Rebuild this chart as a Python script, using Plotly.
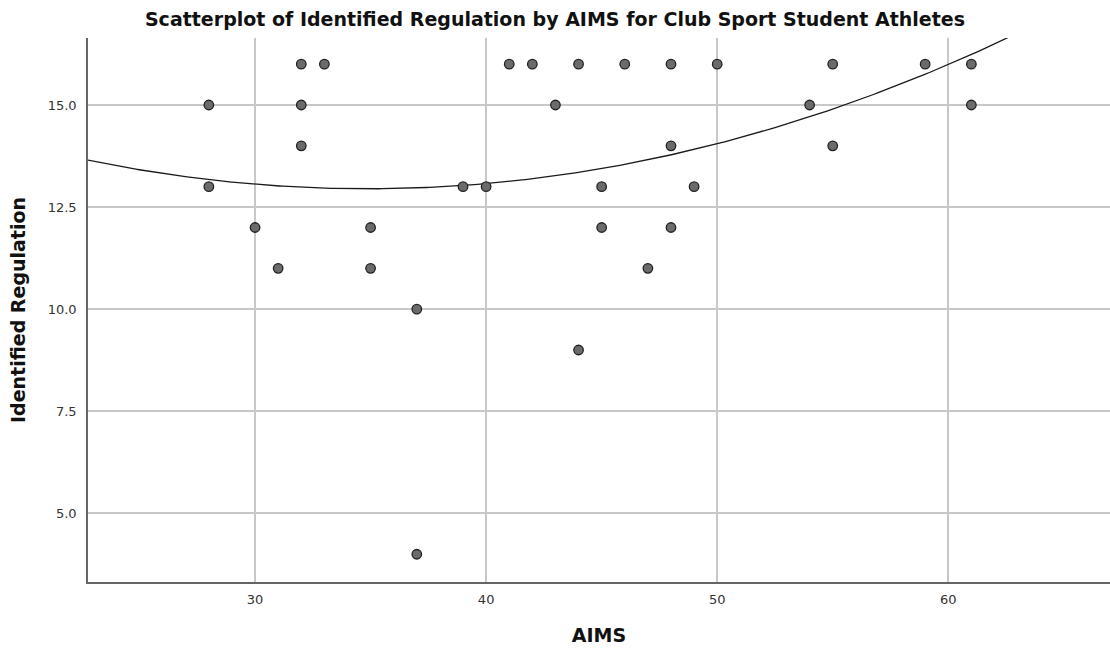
import numpy as np
import plotly.graph_objects as go

aims = [28, 28, 30, 31, 32, 32, 32, 33, 35, 35, 37, 37, 39, 40, 41, 42, 43, 44, 44,
        45, 45, 46, 47, 48, 48, 48, 49, 50, 54, 55, 55, 59, 61, 61]
identified = [15, 13, 12, 11, 16, 15, 14, 16, 12, 11, 10, 4, 13, 13, 16, 16, 15, 16, 9,
              13, 12, 16, 11, 16, 14, 12, 13, 16, 15, 16, 14, 16, 16, 15]

# quadratic fit line
fit_x = [23, 30, 35, 40, 45, 50, 55, 60, 62.8]
fit_y = [13.63, 13.07, 12.93, 13.07, 13.41, 14.05, 14.93, 16.1, 16.6]

x_ticks = [30, 40, 50, 60]
y_ticks = [5.0, 7.5, 10.0, 12.5, 15.0]

X_RANGE = [22.77, 67.0]
Y_RANGE = [3.32, 16.64]

coef = np.polyfit(fit_x, fit_y, 2)
fx = np.linspace(X_RANGE[0], X_RANGE[1], 300)
fy = np.polyval(coef, fx)

fig = go.Figure()
fig.add_trace(go.Scatter(x=fx, y=fy, mode="lines",
                         line=dict(color="#1a1a1a", width=1.3),
                         hoverinfo="skip", showlegend=False))
fig.add_trace(go.Scatter(x=aims, y=identified, mode="markers",
                         marker=dict(size=9.5, color="#6b6b6b",
                                     line=dict(color="#222222", width=1.3)),
                         showlegend=False))

TXT = "DejaVu Sans, Verdana, sans-serif"
fig.update_layout(
    width=1110, height=651,
    margin=dict(l=88, r=0, t=38, b=69),
    paper_bgcolor="white", plot_bgcolor="white",
    font=dict(family=TXT, color="#222222"),
    title=dict(text="<b>Scatterplot of Identified Regulation by AIMS for Club Sport Student Athletes</b>",
               x=0.5, xanchor="center", y=1 - 19 / 651, yanchor="middle",
               font=dict(size=19, color="#111111", family=TXT)),
    xaxis=dict(range=X_RANGE, tickvals=x_ticks, ticktext=[str(v) for v in x_ticks],
               showgrid=True, gridcolor="#c8c8c8", gridwidth=1.5,
               zeroline=False, showline=True, linecolor="#666666", linewidth=1.5,
               ticks="", ticklabelstandoff=5, automargin=False,
               tickfont=dict(size=13, color="#333333", family=TXT),
               title=dict(text="<b>AIMS</b>", font=dict(size=19, color="#111111", family=TXT), standoff=22)),
    yaxis=dict(range=Y_RANGE, tickvals=y_ticks, ticktext=["%.1f" % v for v in y_ticks],
               showgrid=True, gridcolor="#c8c8c8", gridwidth=1.5,
               zeroline=False, showline=True, linecolor="#666666", linewidth=1.5,
               ticks="", ticklabelstandoff=7, automargin=False,
               tickfont=dict(size=13, color="#333333", family=TXT),
               title=dict(text="<b>Identified Regulation</b>", font=dict(size=19, color="#111111", family=TXT), standoff=17)),
)

fig.write_html("out.html", config={"displayModeBar": False},
               post_script="document.body.style.margin='0';document.body.style.overflow='hidden';")
